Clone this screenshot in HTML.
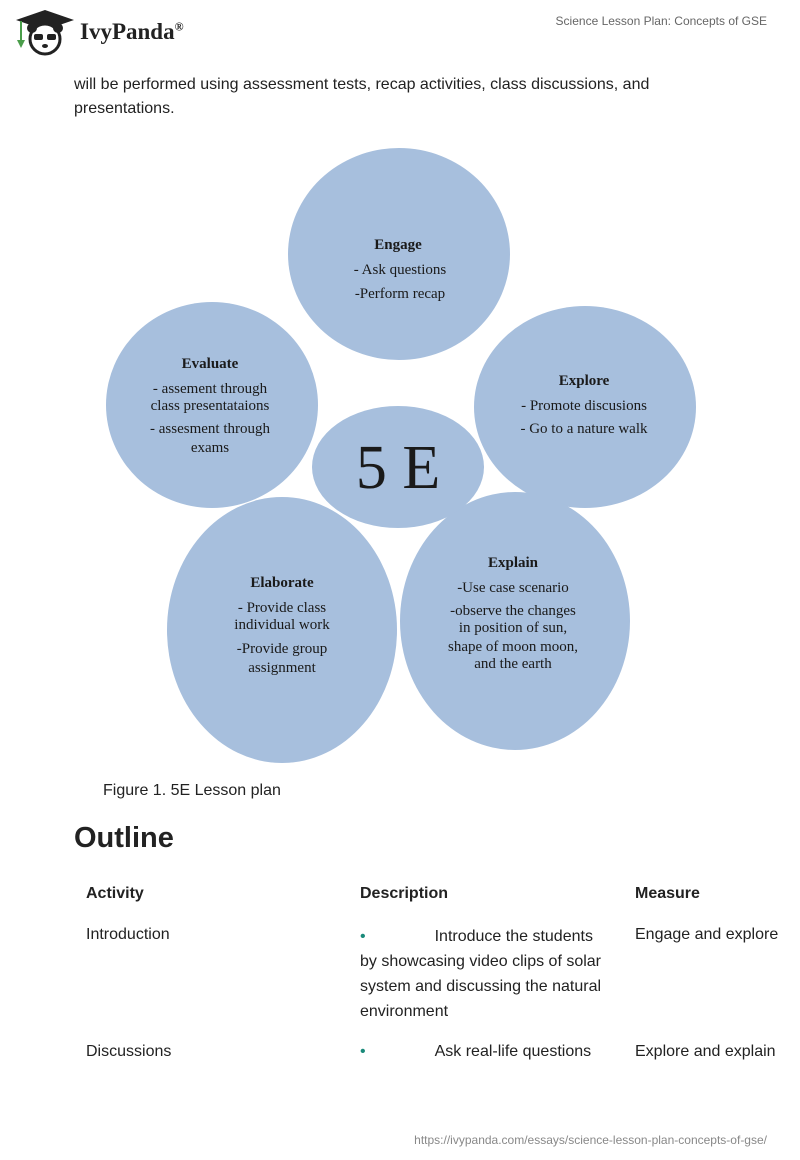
<!DOCTYPE html>
<html><head><style>
body{margin:0;width:800px;height:1160px;background:#fff;font-family:"Liberation Sans",sans-serif;color:#222;position:relative;overflow:hidden}
.a{position:absolute}
</style></head><body>
<svg class="a" style="left:14px;top:8px" width="62" height="48" viewBox="0 0 62 48">
<polygon points="31,2 60,12 31,22 2,12" fill="#222"/>
<rect x="18" y="14" width="26" height="8" fill="#222"/>
<line x1="7" y1="13" x2="7" y2="32" stroke="#4a9d4a" stroke-width="2"/>
<path d="M3,32 l4,8 l4,-8 z" fill="#4a9d4a"/>
<circle cx="31" cy="31" r="15" fill="#fff" stroke="#222" stroke-width="3"/>
<circle cx="18" cy="20" r="5" fill="#222"/><circle cx="44" cy="20" r="5" fill="#222"/>
<rect x="20" y="26" width="9" height="6" rx="2" fill="#222"/><rect x="33" y="26" width="9" height="6" rx="2" fill="#222"/>
<ellipse cx="31" cy="38" rx="3" ry="2" fill="#222"/>
</svg>
<div class="a" style="left:80px;top:19px;font-family:'Liberation Serif',serif;font-weight:bold;font-size:23px;color:#222">IvyPanda<sup style="font-size:12px">®</sup></div>
<div class="a" style="right:33px;top:14px;font-size:12px;color:#666">Science Lesson Plan: Concepts of GSE</div>
<div class="a" style="left:74px;top:73px;width:650px;font-size:16px;line-height:24px">will be performed using assessment tests, recap activities, class discussions, and presentations.</div>
<svg class="a" style="left:0;top:0" width="800" height="800" font-family="Liberation Serif,serif" fill="#1a1a1a" text-anchor="middle" font-size="15">
<g fill="#a7bfdd">
<ellipse cx="399" cy="254" rx="111" ry="106"/>
<ellipse cx="212" cy="405" rx="106" ry="103"/>
<ellipse cx="585" cy="407" rx="111" ry="101"/>
<ellipse cx="282" cy="630" rx="115" ry="133"/>
<ellipse cx="515" cy="621" rx="115" ry="129"/>
<ellipse cx="398" cy="467" rx="86" ry="61"/>
</g>
<text x="398" y="249" font-weight="bold">Engage</text>
<text x="400" y="274">- Ask questions</text>
<text x="400" y="298">-Perform recap</text>
<text x="210" y="368" font-weight="bold">Evaluate</text>
<text x="210" y="393">- assement through</text>
<text x="210" y="410">class presentataions</text>
<text x="210" y="433">- assesment through</text>
<text x="210" y="452">exams</text>
<text x="584" y="385" font-weight="bold">Explore</text>
<text x="584" y="410">- Promote discusions</text>
<text x="584" y="433">- Go to a nature walk</text>
<text x="398" y="488" font-size="62">5 E</text>
<text x="282" y="587" font-weight="bold">Elaborate</text>
<text x="282" y="612">- Provide class</text>
<text x="282" y="629">individual work</text>
<text x="282" y="653">-Provide group</text>
<text x="282" y="672">assignment</text>
<text x="513" y="567" font-weight="bold">Explain</text>
<text x="513" y="592">-Use case scenario</text>
<text x="513" y="615">-observe the changes</text>
<text x="513" y="632">in position of sun,</text>
<text x="513" y="651">shape of moon moon,</text>
<text x="513" y="668">and the earth</text>
</svg>
<div class="a" style="left:103px;top:782px;font-size:16px">Figure 1. 5E Lesson plan</div>
<div class="a" style="left:74px;top:822px;font-size:29px;font-weight:bold">Outline</div>
<div class="a" style="left:86px;top:885px;font-size:16px;font-weight:bold">Activity</div>
<div class="a" style="left:360px;top:885px;font-size:16px;font-weight:bold">Description</div>
<div class="a" style="left:635px;top:885px;font-size:16px;font-weight:bold">Measure</div>
<div class="a" style="left:86px;top:926px;font-size:16px">Introduction</div>
<div class="a" style="left:360px;top:924px;width:252px;font-size:16px;line-height:25px"><span style="color:#1a8a7a">•</span><span style="display:inline-block;width:69px"></span>Introduce the students by showcasing video clips of solar system and discussing the natural environment</div>
<div class="a" style="left:635px;top:926px;font-size:16px">Engage and explore</div>
<div class="a" style="left:86px;top:1043px;font-size:16px">Discussions</div>
<div class="a" style="left:360px;top:1043px;font-size:16px"><span style="color:#1a8a7a">•</span><span style="display:inline-block;width:69px"></span>Ask real-life questions</div>
<div class="a" style="left:635px;top:1043px;font-size:16px">Explore and explain</div>
<div class="a" style="right:33px;top:1133px;font-size:12px;color:#888">https://ivypanda.com/essays/science-lesson-plan-concepts-of-gse/</div>
</body></html>
